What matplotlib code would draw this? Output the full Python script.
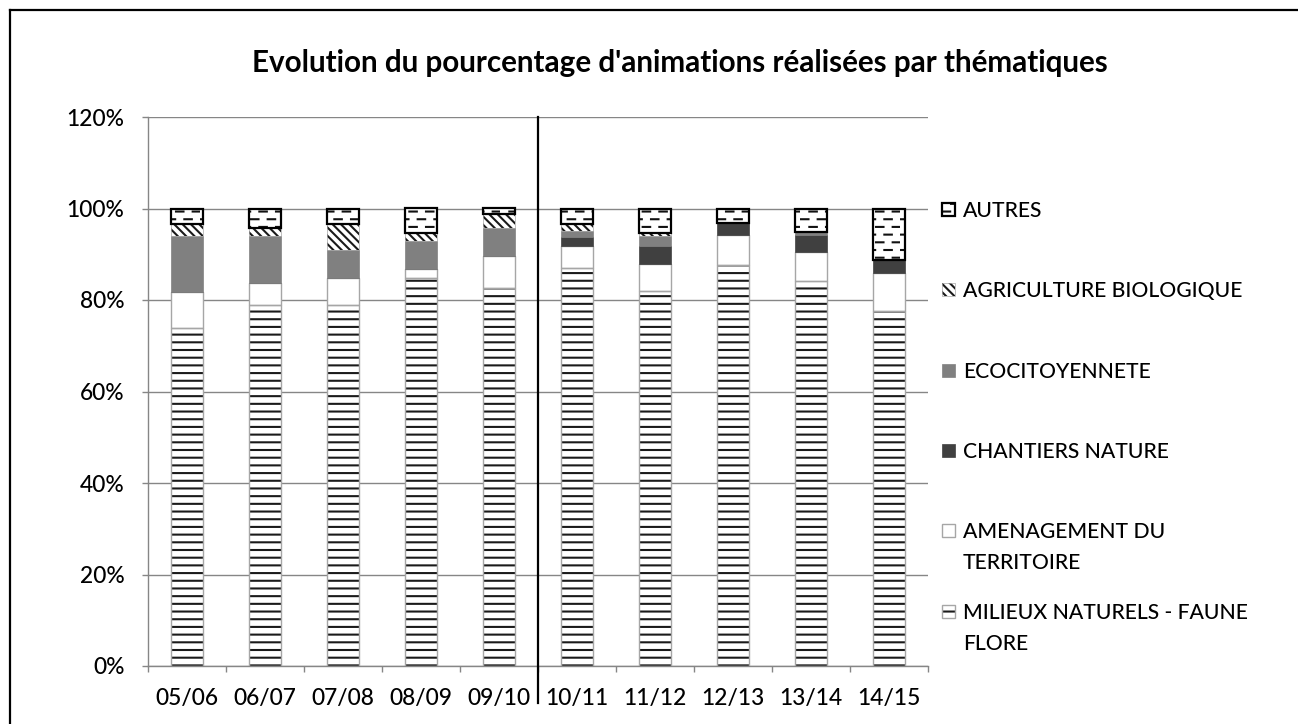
import warnings
warnings.filterwarnings("ignore")
import numpy as np
import matplotlib
matplotlib.use("Agg")
import matplotlib.pyplot as plt
from matplotlib import hatch as mhatch
from matplotlib.path import Path
from matplotlib.patches import Rectangle
from matplotlib.lines import Line2D
from matplotlib.ticker import PercentFormatter, FixedLocator

# ---------------- data (percent) ----------------
categories = ["05/06", "06/07", "07/08", "08/09", "09/10",
              "10/11", "11/12", "12/13", "13/14", "14/15"]
milieux = [73.9, 79.0, 79.0, 84.8, 82.7, 86.9, 81.9, 87.6, 84.2, 77.6]
amenagement = [7.9, 4.8, 5.7, 1.9, 6.9, 4.8, 5.9, 6.5, 6.3, 8.2]
chantiers = [0.0, 0.0, 0.0, 0.0, 0.0, 2.1, 3.9, 2.8, 3.8, 2.9]
ecocitoyennete = [12.1, 10.2, 6.2, 6.2, 6.2, 1.3, 2.3, 0.0, 0.6, 0.0]
agriculture = [2.8, 1.8, 5.8, 1.8, 2.9, 1.6, 0.7, 0.0, 0.0, 0.0]
autres = [3.3, 4.2, 3.3, 5.3, 1.3, 3.3, 5.3, 3.1, 5.1, 11.3]

series_labels = ["MILIEUX NATURELS - FAUNE\nFLORE", "AMENAGEMENT DU\nTERRITOIRE",
                 "CHANTIERS NATURE", "ECOCITOYENNETE", "AGRICULTURE BIOLOGIQUE", "AUTRES"]
title = "Evolution du pourcentage d'animations réalisées par thématiques"
y_ticks = [0, 20, 40, 60, 80, 100, 120]


# ---------------- custom hatches ----------------
class DenseHorizontal(mhatch.HatchPatternBase):
    def __init__(self, hatch, density):
        self.num_lines = 13 * hatch.count('=')
        self.num_vertices = self.num_lines * 2

    def set_vertices_and_codes(self, vertices, codes):
        steps = (np.arange(self.num_lines) + 0.5) / self.num_lines
        vertices[0::2, 0] = 0.0
        vertices[0::2, 1] = steps
        vertices[1::2, 0] = 1.0
        vertices[1::2, 1] = steps
        codes[0::2] = Path.MOVETO
        codes[1::2] = Path.LINETO


class DashRows(mhatch.HatchPatternBase):
    def __init__(self, hatch, density):
        self.rows = 13 if hatch.count('_') else 0
        self.per_row = 6
        self.num_vertices = self.rows * self.per_row * 2

    def set_vertices_and_codes(self, vertices, codes):
        k = 0
        for r in range(self.rows):
            y = (r + 0.5) / self.rows
            off = 0.01 if r % 2 == 0 else 0.01 + 0.5 / self.per_row
            for c in range(self.per_row):
                x0 = c / self.per_row + off
                vertices[k] = (x0, y)
                vertices[k + 1] = (min(x0 + 0.075, 0.999), y)
                codes[k] = Path.MOVETO
                codes[k + 1] = Path.LINETO
                k += 2


mhatch._hatch_types.append(DenseHorizontal)
mhatch._hatch_types.append(DashRows)

# ---------------- style ----------------
W, H = 1298, 724
DPI = 100
plt.rcParams['font.family'] = ['Lato', 'DejaVu Sans']
plt.rcParams['hatch.linewidth'] = 1.5
GRID = '#868686'
OUTLINE = '#a6a6a6'
TXT_WEIGHT = 'medium'


def fx(x):
    return x / W


def fy(y):
    return 1 - y / H


fig = plt.figure(figsize=(W / DPI, H / DPI), dpi=DPI)
renderer = fig.canvas.get_renderer()


def fit_size(text, target_px, **kw):
    t = fig.text(0, 0, text, fontsize=20, **kw)
    w = t.get_window_extent(renderer).width
    t.remove()
    return 20.0 * target_px / w


def fit_linespacing(fs, advance_px, **kw):
    def adv(ls):
        t1 = fig.text(0, 0, "AX", fontsize=fs, linespacing=ls, **kw)
        t2 = fig.text(0, 0, "AX\nAX", fontsize=fs, linespacing=ls, **kw)
        h1 = t1.get_window_extent(renderer).height
        h2 = t2.get_window_extent(renderer).height
        t1.remove(); t2.remove()
        return h2 - h1
    a1, a2 = adv(1.0), adv(2.0)
    b = a2 - a1
    return 1.0 + (advance_px - a1) / b


FS_TICK = fit_size("05/06", 63, fontweight=TXT_WEIGHT)
FS_LEG = fit_size("AGRICULTURE BIOLOGIQUE", 280, fontweight=TXT_WEIGHT)
FS_TITLE = fit_size(title, 859, fontweight='bold')
LS_LEG = fit_linespacing(FS_LEG, 31, fontweight=TXT_WEIGHT)

ax = fig.add_axes([fx(148), fy(666), fx(928) - fx(148), fy(117) - fy(666)])

x = np.arange(len(categories))
width = 0.4

styles = [
    dict(face='white', hatch='=', hcol='#1a1a1a', edge=OUTLINE, lw=1.0),   # milieux
    dict(face='white', hatch=None, hcol=None, edge=OUTLINE, lw=1.0),      # amenagement
    dict(face='#404040', hatch=None, hcol=None, edge='#404040', lw=0.5),  # chantiers
    dict(face='#808080', hatch=None, hcol=None, edge='#808080', lw=0.5),  # eco
    dict(face='white', hatch='\\\\\\\\', hcol='#1a1a1a', edge=OUTLINE, lw=0.5),  # agri
    dict(face='white', hatch='_', hcol='#111111', edge='black', lw=1.6),   # autres
]
series = [milieux, amenagement, chantiers, ecocitoyennete, agriculture, autres]

bottom = np.zeros(len(categories))
for vals, st in zip(series, styles):
    v = np.array(vals) / 100.0
    if st['hatch']:
        ax.bar(x, v, width, bottom=bottom, color=st['face'], hatch=st['hatch'],
               edgecolor=st['hcol'], linewidth=0, zorder=2)
        ax.bar(x, v, width, bottom=bottom, fill=False, edgecolor=st['edge'],
               linewidth=st['lw'], zorder=3)
    else:
        ax.bar(x, v, width, bottom=bottom, color=st['face'],
               edgecolor=st['edge'], linewidth=st['lw'], zorder=2)
    bottom += v

ax.set_xlim(-0.5, len(categories) - 0.5)
ax.set_ylim(0, 1.2)
ax.set_yticks(np.array(y_ticks) / 100.0)
ax.yaxis.set_major_formatter(PercentFormatter(1.0, decimals=0))
ax.set_xticks(x)
ax.set_xticklabels(categories)
ax.xaxis.set_minor_locator(FixedLocator(np.arange(len(categories) + 1) - 0.5))
ax.tick_params(axis='x', which='major', length=0, pad=16, labelsize=FS_TICK)
ax.tick_params(axis='x', which='minor', length=4, width=1, color=GRID, direction='out')
ax.tick_params(axis='y', length=4, width=1, color=GRID, pad=13, labelsize=FS_TICK)
for lab in ax.get_xticklabels() + ax.get_yticklabels():
    lab.set_fontweight(TXT_WEIGHT)
ax.yaxis.grid(True, color=GRID, linewidth=1.0)
ax.set_axisbelow(True)
for s in ['top', 'right']:
    ax.spines[s].set_visible(False)
for s in ['left', 'bottom']:
    ax.spines[s].set_color(GRID)
    ax.spines[s].set_linewidth(1.0)

# separator line between 09/10 and 10/11
ax.plot([4.5, 4.5], [-0.08, 1.2], color='black', linewidth=1.6, clip_on=False, zorder=5)

# title
fig.text(fx(252), fy(71.7), title, ha='left', va='baseline', fontsize=FS_TITLE,
         fontweight='bold', color='black')

# legend (manual, top-down): (series index, first-line baseline px, last-line baseline px)
leg_items = [
    (5, 216.7, 216.7), (4, 296.7, 296.7), (3, 377.7, 377.7), (2, 457.7, 457.7),
    (1, 537.7, 568.7), (0, 619.3, 650.3)
]
for idx, base_first, base_last in leg_items:
    st = styles[idx]
    cy = base_first - 7.5
    x0, x1 = fx(942), fx(955)
    y0, y1 = fy(cy + 6.5), fy(cy - 6.5)
    r = Rectangle((x0, y0), x1 - x0, y1 - y0,
                  transform=fig.transFigure, facecolor=st['face'],
                  hatch=st['hatch'], edgecolor=st['hcol'] if st['hatch'] else st['edge'],
                  linewidth=0 if st['hatch'] else st['lw'])
    fig.patches.append(r)
    if st['hatch']:
        r2 = Rectangle((x0, y0), x1 - x0, y1 - y0,
                       transform=fig.transFigure, fill=False, edgecolor=st['edge'],
                       linewidth=st['lw'])
        fig.patches.append(r2)
    fig.text(fx(963), fy(base_last), series_labels[idx], ha='left', va='baseline',
             fontsize=FS_LEG, linespacing=LS_LEG, color='black', fontweight=TXT_WEIGHT)

# chart area frame (left and top edges visible)
fig.add_artist(Line2D([fx(10), fx(10)], [fy(10), 0], transform=fig.transFigure,
                      color='black', linewidth=1.6))
fig.add_artist(Line2D([fx(10), 1], [fy(10), fy(10)], transform=fig.transFigure,
                      color='black', linewidth=1.6))

fig.savefig("out.png", dpi=DPI)
